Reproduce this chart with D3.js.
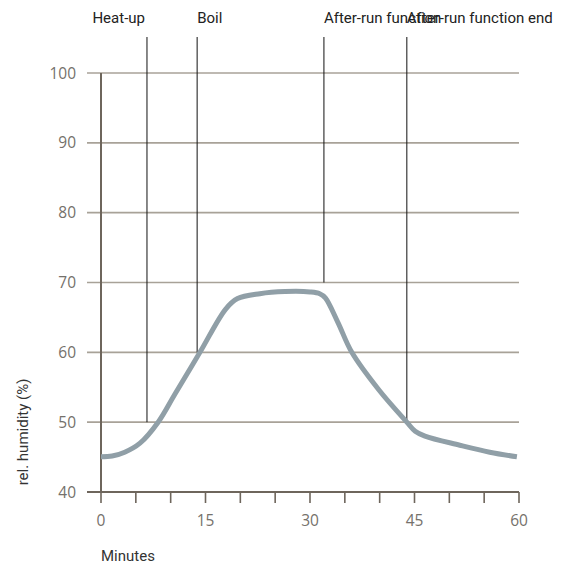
<!DOCTYPE html>
<html>
<head>
<meta charset="utf-8">
<script src="https://cdn.jsdelivr.net/npm/d3@7"></script>
<style>
  body { margin: 0; background: #fff; }
  svg { display: block; }
  .tick_label { font-family: "Open Sans", sans-serif; font-size: 15.5px; fill: #75716b; }
  .event_label { font-family: Roboto, sans-serif; font-size: 15px; fill: #222; }
  .axis_title { font-family: Roboto, sans-serif; font-size: 15px; fill: #333; }
</style>
</head>
<body>
<script>
// curve: minutes vs rel. humidity
const minutes = [0, 1.6, 3.4, 5.6, 8.2, 10.6, 14.2, 17.9, 19.6, 22.8, 26.4, 30, 31.4, 32.2, 34.0, 36.0, 39.9, 43.9, 45.1, 46.5, 51.5, 55.8, 59.7];
const humidity = [45.05, 45.15, 45.7, 47.0, 50, 54.0, 60, 66.2, 67.7, 68.4, 68.7, 68.65, 68.4, 67.8, 64.3, 60, 54.6, 50, 48.7, 48.0, 46.7, 45.7, 45.05];

// phase markers
const eventNames = ["Heat-up", "Boil", "After-run function", "After-run function end"];
const eventMinutes = [6.6, 13.8, 32.0, 43.9];
const eventEnds = [50, 60, 70, 50];   // humidity where each marker line stops

const yTicks = [40, 50, 60, 70, 80, 90, 100];
const xTickLabels = [0, 15, 30, 45, 60];
const xMinorTicks = d3.range(0, 61, 5);

const width = 574;
const height = 567;

const svg = d3.select("body")
  .append("svg")
  .attr("width", width)
  .attr("height", height);

const x = d3.scaleLinear().domain([0, 60]).range([101, 519]);
const y = d3.scaleLinear().domain([40, 100]).range([492, 73]);

// gridlines
svg.append("g")
  .selectAll("line")
  .data(yTicks.filter(d => d > 40))
  .enter()
  .append("line")
  .attr("x1", 87)
  .attr("x2", x(60))
  .attr("y1", d => y(d))
  .attr("y2", d => y(d))
  .style("stroke", "#a8a298")
  .style("stroke-width", 1.6);

// y labels
svg.append("g")
  .selectAll("text")
  .data(yTicks)
  .enter()
  .append("text")
  .attr("class", "tick_label")
  .attr("x", 76)
  .attr("y", d => y(d))
  .attr("dy", "0.36em")
  .attr("text-anchor", "end")
  .text(d => d);

// event marker lines
svg.append("g")
  .selectAll("line")
  .data(eventMinutes)
  .enter()
  .append("line")
  .attr("x1", d => x(d))
  .attr("x2", d => x(d))
  .attr("y1", 37)
  .attr("y2", (d, i) => y(eventEnds[i]))
  .style("stroke", "#111")
  .style("stroke-width", 1);

svg.append("g")
  .selectAll("text")
  .data(eventNames)
  .enter()
  .append("text")
  .attr("class", "event_label")
  .attr("x", (d, i) => x(eventMinutes[i]) + (i === 0 ? -2 : 0))
  .attr("y", 23)
  .attr("text-anchor", (d, i) => (i === 0 ? "end" : "start"))
  .text(d => d);

// axes
svg.append("line")
  .attr("x1", x(0)).attr("x2", x(0))
  .attr("y1", y(100)).attr("y2", y(40))
  .style("stroke", "#6e665c")
  .style("stroke-width", 2);

svg.append("line")
  .attr("x1", 87).attr("x2", x(60))
  .attr("y1", y(40)).attr("y2", y(40))
  .style("stroke", "#6e665c")
  .style("stroke-width", 2);

svg.append("g")
  .selectAll("line")
  .data(xMinorTicks)
  .enter()
  .append("line")
  .attr("x1", d => x(d))
  .attr("x2", d => x(d))
  .attr("y1", y(40))
  .attr("y2", y(40) + 11)
  .style("stroke", "#6e665c")
  .style("stroke-width", 1.6);

svg.append("g")
  .selectAll("text")
  .data(xTickLabels)
  .enter()
  .append("text")
  .attr("class", "tick_label")
  .attr("x", d => x(d))
  .attr("y", 526)
  .attr("text-anchor", "middle")
  .text(d => d);

// humidity curve
const line = d3.line()
  .x(d => x(d[0]))
  .y(d => y(d[1]))
  .curve(d3.curveCatmullRom.alpha(0.5));

svg.append("path")
  .datum(minutes.map((m, i) => [m, humidity[i]]))
  .attr("d", line)
  .style("fill", "none")
  .style("stroke", "#909fa7")
  .style("stroke-width", 5)
  .style("stroke-linecap", "butt")
  .style("stroke-linejoin", "round");

// axis titles
svg.append("text")
  .attr("class", "axis_title")
  .attr("transform", "translate(28, 432) rotate(-90)")
  .attr("text-anchor", "middle")
  .text("rel. humidity (%)");

svg.append("text")
  .attr("class", "axis_title")
  .attr("x", 101)
  .attr("y", 561)
  .text("Minutes");
</script>
</body>
</html>
